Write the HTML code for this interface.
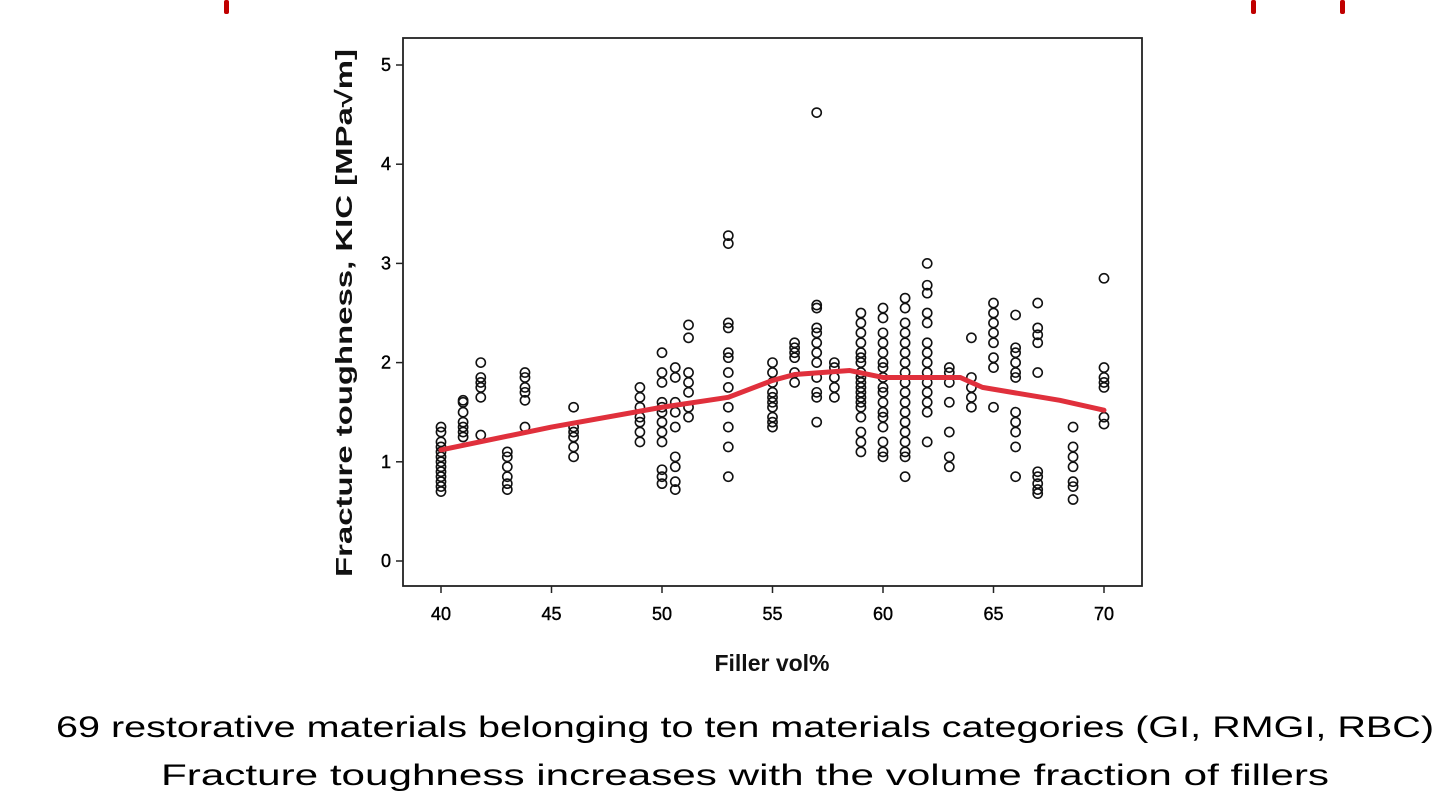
<!DOCTYPE html>
<html><head><meta charset="utf-8"><style>
html,body{margin:0;padding:0;background:#fff;width:1440px;height:809px;overflow:hidden}
svg{display:block}
</style></head><body>
<svg id="chart" width="1440" height="809" xmlns="http://www.w3.org/2000/svg" font-family="Liberation Sans, Arial, sans-serif">
<rect x="224" y="0" width="5" height="14" rx="2" fill="#c00000"/>
<rect x="1251" y="0" width="5" height="14" rx="2" fill="#c00000"/>
<rect x="1340" y="0" width="5" height="14" rx="2" fill="#c00000"/>
<rect x="403" y="38" width="739" height="548" fill="none" stroke="#222" stroke-width="1.8"/>
<g id="yticks"></g>
<g id="xticks"></g>
<g id="points"></g>
<path id="fit" fill="none" stroke="#e0303c" stroke-width="5" stroke-linejoin="round" stroke-linecap="round"/>
<text x="0" y="0" transform="translate(352,313) rotate(-90)" text-anchor="middle" font-size="23" font-weight="bold" fill="#111" textLength="528" lengthAdjust="spacingAndGlyphs">Fracture toughness, KIC [MPa√m]</text>
<text x="772" y="671" text-anchor="middle" font-size="23" font-weight="bold" fill="#111">Filler vol%</text>
<text x="745" y="737" text-anchor="middle" font-size="30" fill="#000" textLength="1378" lengthAdjust="spacingAndGlyphs">69 restorative materials belonging to ten materials categories (GI, RMGI, RBC)</text>
<text x="745" y="785" text-anchor="middle" font-size="30" fill="#000" textLength="1168" lengthAdjust="spacingAndGlyphs">Fracture toughness increases with the volume fraction of fillers</text>
</svg>
<script>
const xTicks=[40,45,50,55,60,65,70];
const yTicks=[0,1,2,3,4,5];
const colX=[40,41,41.8,43,43.8,46,49,50,50.6,51.2,53,55,56,57,57.8,59,60,61,62,63,64,65,66,67,68.6,70];
const colY=[
[0.7,0.75,0.8,0.85,0.9,0.95,1.0,1.05,1.1,1.15,1.2,1.3,1.35],
[1.25,1.3,1.35,1.4,1.5,1.6,1.62],
[1.27,1.65,1.75,1.8,1.85,2.0],
[0.72,0.78,0.85,0.95,1.05,1.1],
[1.35,1.62,1.7,1.75,1.85,1.9],
[1.05,1.15,1.25,1.3,1.35,1.55],
[1.2,1.3,1.4,1.45,1.55,1.65,1.75],
[0.78,0.85,0.92,1.2,1.3,1.4,1.5,1.55,1.6,1.8,1.9,2.1],
[0.72,0.8,0.95,1.05,1.35,1.5,1.6,1.85,1.95],
[1.45,1.55,1.7,1.8,1.9,2.25,2.38],
[0.85,1.15,1.35,1.55,1.75,1.9,2.05,2.1,2.35,2.4,3.2,3.28],
[1.35,1.4,1.45,1.55,1.6,1.65,1.7,1.8,1.9,2.0],
[1.8,1.9,2.05,2.1,2.15,2.2],
[1.4,1.65,1.7,1.85,2.0,2.1,2.2,2.3,2.35,2.55,2.58,4.52],
[1.65,1.75,1.85,1.95,2.0],
[1.1,1.2,1.3,1.45,1.55,1.6,1.65,1.7,1.75,1.8,1.85,1.9,2.0,2.05,2.1,2.2,2.3,2.4,2.5],
[1.05,1.1,1.2,1.35,1.45,1.5,1.6,1.7,1.75,1.85,1.95,2.0,2.1,2.2,2.3,2.45,2.55],
[0.85,1.05,1.1,1.2,1.3,1.4,1.5,1.6,1.7,1.8,1.9,2.0,2.1,2.2,2.3,2.4,2.55,2.65],
[1.2,1.5,1.6,1.7,1.8,1.9,2.0,2.1,2.2,2.4,2.5,2.7,2.78,3.0],
[0.95,1.05,1.3,1.6,1.8,1.9,1.95],
[1.55,1.65,1.75,1.85,2.25],
[1.55,1.95,2.05,2.2,2.3,2.4,2.5,2.6],
[0.85,1.15,1.3,1.4,1.5,1.85,1.9,2.0,2.1,2.15,2.48],
[0.68,0.72,0.78,0.85,0.9,1.9,2.2,2.28,2.35,2.6],
[0.62,0.75,0.8,0.95,1.05,1.15,1.35],
[1.38,1.45,1.75,1.8,1.85,1.95,2.85]
];
const fitX=[40,45,50,53,55,56,58.5,60,62,63.5,64.5,68,70];
const fitY=[1.12,1.35,1.55,1.65,1.82,1.88,1.92,1.85,1.85,1.85,1.75,1.62,1.52];
const NS="http://www.w3.org/2000/svg";
function sx(v){return 441+(v-40)*(1104-441)/30;}
function sy(v){return 561-v*(561-65)/5;}
function mk(t,a,p){const e=document.createElementNS(NS,t);for(const k in a)e.setAttribute(k,a[k]);p.appendChild(e);return e;}
const yg=document.getElementById('yticks'),xg=document.getElementById('xticks'),pg=document.getElementById('points');
yTicks.forEach(v=>{
  const l=mk('line',{x1:396,x2:403,y1:sy(v),y2:sy(v),stroke:'#222','stroke-width':1.5},yg);
  
  
  const t=mk('text',{x:391,y:sy(v)+6,'text-anchor':'end','font-size':18,fill:'#000',stroke:'#000','stroke-width':0.4},yg);
  t.textContent=v;
  
  
});
xTicks.forEach(v=>{
  const l=mk('line',{x1:sx(v),x2:sx(v),y1:586,y2:593,stroke:'#222','stroke-width':1.5},xg);
  
  
  const t=mk('text',{x:sx(v),y:620,'text-anchor':'middle','font-size':18,fill:'#000',stroke:'#000','stroke-width':0.4},xg);
  t.textContent=v;
  
  
});
colX.forEach((x,i)=>{colY[i].forEach(y=>{
  const c=mk('circle',{cx:sx(x),cy:sy(y),r:4.6,fill:'none',stroke:'#111','stroke-width':1.6},pg);
  
  
});});
document.getElementById('fit').setAttribute('d',fitX.map((x,i)=>(i?'L':'M')+sx(x)+','+sy(fitY[i])).join(''));
</script>
</body></html>
